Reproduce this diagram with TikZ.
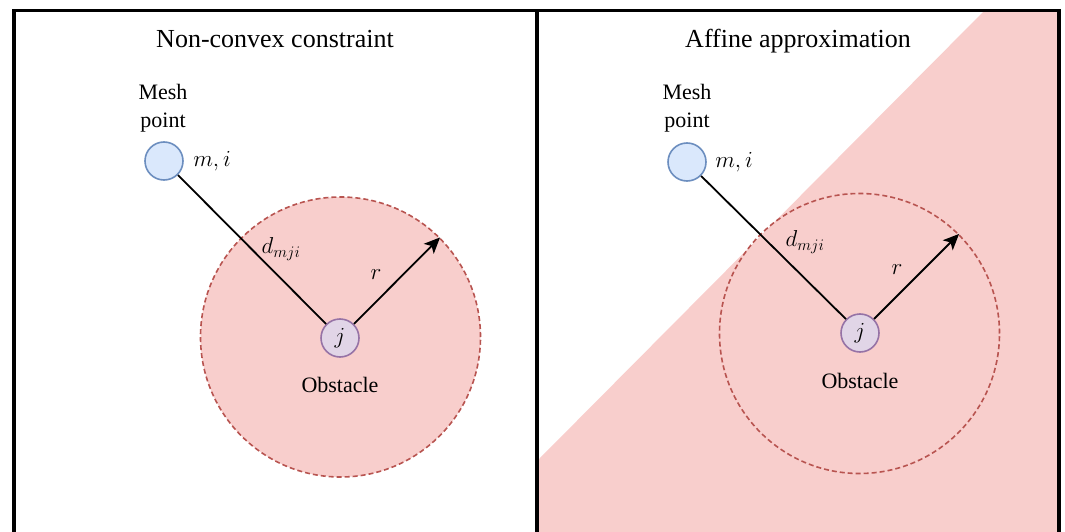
\RequirePackage{fix-cm}
\documentclass[tikz,border=0pt]{standalone}
\usepackage{fontspec}
\setmainfont{Liberation Serif}
\usetikzlibrary{arrows.meta}
\definecolor{zonefill}{HTML}{F8CECC}
\definecolor{zoneline}{HTML}{B85450}
\definecolor{meshfill}{HTML}{DAE8FC}
\definecolor{meshline}{HTML}{6C8EBF}
\definecolor{objfill}{HTML}{E1D5E7}
\definecolor{objline}{HTML}{9673A6}
\tikzset{
  frame/.style={line width=3.8pt, black},
  zone/.style={circle, draw=zoneline, line width=1.6pt, dash pattern=on 5pt off 3pt, minimum size=280pt, inner sep=0pt},
  meshpt/.style={circle, draw=meshline, fill=meshfill, line width=1.6pt, minimum size=38pt, inner sep=0pt},
  obspt/.style={circle, draw=objline, fill=objfill, line width=1.6pt, minimum size=38pt, inner sep=0pt, font=\fontsize{23}{26}\selectfont},
  title/.style={font=\fontsize{26}{30}\selectfont, anchor=base},
  lbl/.style={font=\fontsize{22}{28}\selectfont, align=center, inner sep=0pt},
  mlbl/.style={font=\fontsize{23}{28}\selectfont, inner sep=0pt},
  conn/.style={line width=1.8pt, black},
  arr/.style={line width=1.8pt, black, -{Stealth[length=16pt,width=14pt,inset=4pt]}}
}
\begin{document}
\begin{tikzpicture}[x=1pt,y=-1pt]
\useasboundingbox (0,0) rectangle (1065,532);
% pink half-plane (right panel)
\fill[zonefill] (538,460) -- (985,10) -- (1059,10) -- (1059,560) -- (538,560) -- cycle;

% ---------- left panel ----------
\node[title] (titleL) at (275,47.5) {Non-convex constraint};
\node[zone, fill=zonefill] (zoneL) at (340.5,337) {};
\node[meshpt] (meshL) at (164,161) {};
\node[lbl] (meshlabL) at (163,108) {Mesh\\point};
\node[mlbl] (milabL) at (212,161) {$m,i$};
\node[obspt] (objL) at (340,338) {$j$};
\node[lbl] (obslabL) at (340,385) {Obstacle};
\draw[conn] (meshL) -- (objL);
\draw[arr] (objL) -- (zoneL.45);
\node[mlbl] (dlabL) at (281,249) {$d_{mji}$};
\node[mlbl] (rlabL) at (376,275) {$r$};

% ---------- right panel ----------
\node[title] (titleR) at (798,47.5) {Affine approximation};
\node[zone] (zoneR) at (859.5,333.5) {};
\node[meshpt] (meshR) at (687,162) {};
\node[lbl] (meshlabR) at (687,108) {Mesh\\point};
\node[mlbl] (milabR) at (734,162) {$m,i$};
\node[obspt] (objR) at (860,333) {$j$};
\node[lbl] (obslabR) at (860,381) {Obstacle};
\draw[conn] (meshR) -- (objR);
\draw[arr] (objR) -- (zoneR.45);
\node[mlbl] (dlabR) at (805,242) {$d_{mji}$};
\node[mlbl] (rlabR) at (897,270) {$r$};

% ---------- frame ----------
\draw[frame] (14,560) |- (1059,10.5) -- (1059,560);
\draw[frame] (536.7,10.5) -- (536.7,560);
\end{tikzpicture}
\end{document}
